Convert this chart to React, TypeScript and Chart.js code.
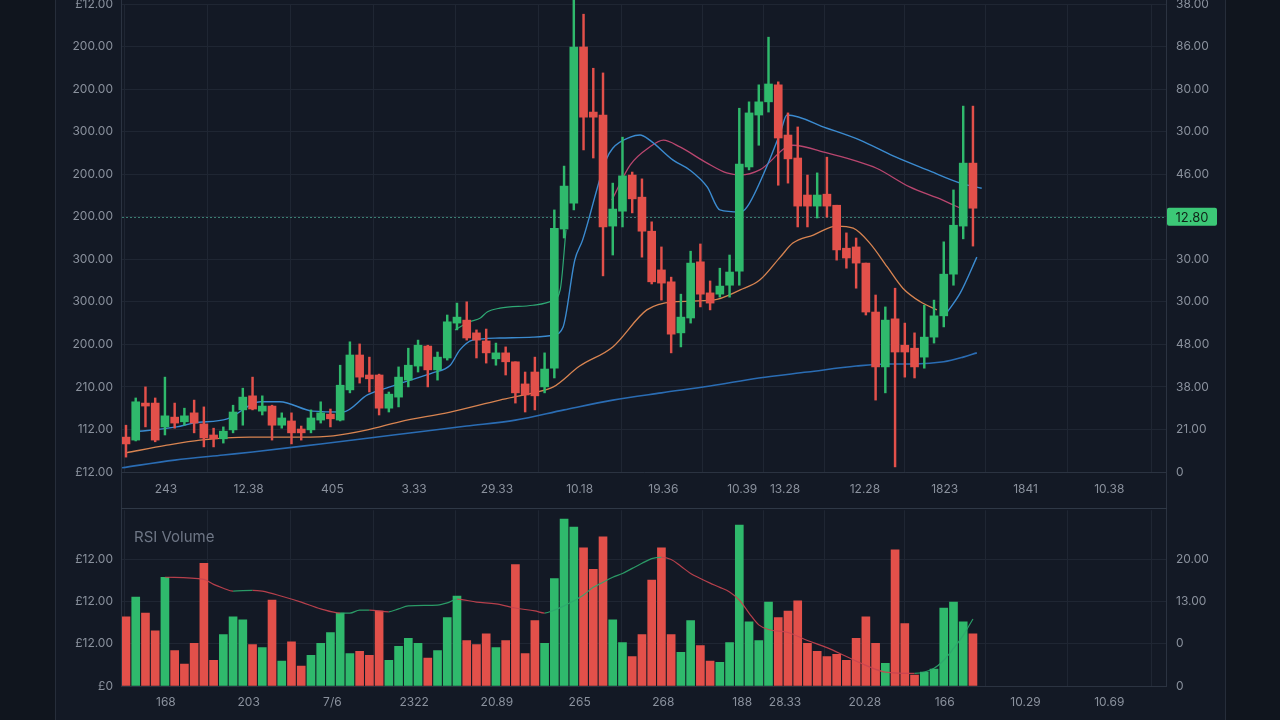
import React, { useEffect, useRef } from "react";
import { Chart, registerables } from "chart.js";

Chart.register(...registerables);

// ---------- DATA ----------
const opens = [8.2,7.5,16.2,16.2,10.6,12.9,11.8,13.9,11.3,8.7,7.8,9.9,14.6,17.9,14.3,15.5,11.0,12.0,10.1,9.9,12.2,13.6,12.2,19.3,27.5,22.8,22.8,15.0,17.6,21.6,24.9,29.6,24.0,26.8,35.0,35.7,32.7,30.8,26.6,28.0,25.9,20.7,23.5,20.0,24.4,57.1,63.2,99.9,84.6,83.9,57.8,61.3,69.8,64.6,56.6,47.5,44.7,32.7,36.2,49.4,42.1,41.8,43.9,47.2,71.7,83.9,87.0,91.0,79.2,73.8,65.1,62.5,65.3,62.7,52.6,52.9,49.1,37.6,24.7,36.0,29.8,29.1,27.0,31.7,36.7,46.5,57.8,72.6];
const closes = [6.6,16.5,15.5,7.5,13.2,11.5,13.2,11.5,8.0,7.8,9.6,14.1,17.6,14.8,15.5,11.0,12.7,9.2,9.2,12.7,13.9,12.5,20.4,27.5,22.3,21.9,15.0,18.3,22.3,25.1,29.8,24.0,27.0,35.3,36.4,31.5,31.0,28.0,28.0,25.9,18.6,18.1,17.9,24.2,57.3,67.2,99.9,83.4,83.4,57.6,61.8,69.6,64.2,56.6,44.7,44.4,32.4,36.4,49.1,41.8,39.7,43.7,47.0,72.4,84.4,87.0,91.2,78.5,73.6,62.5,62.5,65.1,62.5,52.2,50.3,49.1,37.6,24.7,35.7,28.2,28.2,24.7,31.7,36.7,46.5,58.0,72.6,62.0];
const highs = [11.0,17.4,20.0,17.4,22.3,16.2,15.0,16.9,15.3,10.3,10.6,15.7,19.7,22.3,17.9,15.7,13.9,13.9,10.8,14.6,16.5,14.8,25.1,30.6,30.1,27.0,23.0,18.8,24.7,29.1,31.0,29.8,28.2,36.9,39.7,40.0,33.4,33.6,30.3,29.4,25.9,23.5,27.0,28.0,61.6,71.9,113.0,107.6,94.9,93.8,67.9,78.7,70.5,68.9,58.8,52.9,45.8,41.8,51.9,53.6,44.9,47.9,51.0,85.5,87.0,91.0,102.2,91.7,84.4,81.1,69.8,70.3,74.0,62.7,56.2,55.0,49.1,41.6,38.8,43.2,35.0,32.7,39.2,40.4,54.1,66.3,86.0,86.0];
const lows = [3.5,7.3,10.6,7.1,8.7,10.3,11.0,9.2,5.9,5.9,6.8,9.2,11.0,14.6,13.4,7.5,10.3,6.6,7.5,9.2,11.5,10.6,12.0,18.6,20.9,18.8,13.4,14.1,15.3,20.0,23.5,20.0,21.6,26.3,33.4,31.0,26.8,25.6,25.1,22.8,16.2,14.1,14.6,18.6,22.1,55.0,61.6,75.7,73.8,46.1,51.0,57.6,60.9,50.5,44.2,40.4,28.0,29.4,35.0,38.8,38.1,41.1,41.1,43.9,71.0,76.8,84.6,67.4,67.9,57.6,57.6,59.7,59.9,49.8,47.9,43.2,36.9,16.9,18.6,1.2,22.3,22.1,24.4,30.3,34.1,43.9,54.8,53.1];

const volumes = [16.4,21.1,17.3,13.1,25.8,8.4,5.2,10.1,29.1,6.1,12.2,16.4,15.7,9.8,9.1,20.4,5.9,10.5,4.7,7.3,10.1,12.7,17.3,7.7,8.2,7.3,17.8,6.1,9.4,11.3,10.1,6.6,8.4,16.2,21.3,10.8,9.8,12.4,9.1,10.8,28.8,7.7,15.5,10.1,25.5,39.6,37.7,32.8,27.7,35.4,15.7,10.3,7.0,12.2,25.1,32.8,12.2,8.0,15.5,9.6,5.9,5.6,10.3,38.2,15.2,10.8,19.9,16.2,17.8,20.2,10.1,8.2,7.0,7.5,6.1,11.3,16.4,10.1,5.4,32.3,14.8,2.6,3.3,4.0,18.5,19.9,15.2,12.4];
const volumeUp = [0,1,0,0,1,0,0,0,0,0, 1,1,1,0,1,0,1,0,0,1, 1,1,1,1,0,0,0,1,1,1, 1,0,1,1,1,0,0,0,1,0, 0,0,0,1,1,1,1,0,0,0, 1,1,0,0,0,0,0,1,1,0, 0,1,1,1,1,1,1,0,0,0, 0,0,0,0,0,0,0,0,1,0, 0,0,1,1,1,1,1,0];

const maLongX = [-0.4,5,10,13,20,25,30,35,40,45,50,55,60,65,70,75,78,81,84,86,87.4];
const maLongY = [1.0,2.8,4.0,4.7,6.6,8.0,9.4,10.8,12.2,14.6,16.9,18.6,20.2,22.1,23.5,24.9,25.4,25.4,25.9,27.0,28.0];

const maMidX = [0,4.2,7.6,12.7,17.9,21.3,24.8,28.1,33.3,38.4,41.8,43.9,46.6,50.0,53.5,56.2,60.3,63.1,65.1,67.2,68.5,70.6,73.0,74.7,76.4,78.2,79.8,81.6,83.3];
const maMidY = [4.5,6.3,7.5,8.2,8.2,8.5,9.9,11.8,14.1,16.9,18.6,20.0,24.9,29.4,38.1,40.0,40.4,42.8,45.1,50.5,53.8,55.7,57.8,57.3,53.8,48.2,43.2,40.0,38.1];

const maShortX = [0.7,5.2,6.9,10.4,13.8,15.8,19.2,22.3,24.8,27.1,29.2,31.5,33.3,34.3,35.6,38.4,41.8,43.9,44.9,46.1,46.9,49.3,50.0,51.8,52.8,53.8,56.2,57.9,59.7,61.0,63.1,63.8,65.8,67.2,67.9,72.0,75.4,78.8,82.3,85.7,87.9];
const maShortY = [9.4,10.6,11.5,12.5,16.5,16.5,14.3,14.1,18.1,20.0,21.6,23.3,25.1,28.7,31.0,31.5,31.7,32.2,34.1,49.8,54.5,73.3,76.1,78.7,79.2,78.0,73.3,71.0,67.0,61.6,61.1,62.3,71.7,79.7,83.9,80.8,78.0,74.3,71.0,67.9,66.7];

const maTailX = [84.3,85.7,87.4];
const maTailY = [37.4,42.1,50.5];

const bandX = [33.8,35.3,36.4,37.1,38.4,41.8,43.9,44.6,45.2];
const bandY = [33.4,35.3,36.2,37.6,38.5,39.2,40.4,42.8,56.9];

const maPinkX = [49.9,51.8,53.8,55.2,56.9,59.7,61.7,63.1,65.1,68.5,72.0,74.7,77.1,80.5,83.9,85.7];
const maPinkY = [63.9,72.2,76.4,78.0,76.4,72.6,70.3,69.8,71.0,76.8,75.0,73.3,71.4,67.0,63.9,62.0];

const rsiX = [4,8,9,10,11,13,14,16,18,20,22,23,24,25,27,28,29,32,33,34,36,38,40,42,43,44,45,46,47,48,49,50,51,52,53,54,55,56,57,58,59,60,61,62,63,64,65,66,68,70,72,74,76,78,81,83,84,85,86,87];
const rsiY = [25.8,25.3,24.1,23.2,22.5,22.7,22.5,21.3,19.9,18.3,17.3,17.3,18.0,18.0,17.6,18.3,19.0,19.2,19.7,20.6,19.9,19.5,18.5,17.8,17.3,18.0,19.0,20.2,21.6,23.4,24.6,25.8,26.7,27.9,29.1,30.2,30.5,30.0,28.4,26.7,25.5,24.4,23.4,22.3,20.4,17.3,14.5,13.4,12.7,10.8,9.1,7.0,4.9,3.3,3.0,4.2,6.1,8.9,12.0,15.9];

const xTickPos = [4.1,12.6,21.2,29.6,38.1,46.6,55.2,63.3,67.7,75.9,84.1,92.4,101.0];
const mainXLabels = ["243","12.38","405","3.33","29.33","10.18","19.36","10.39","13.28","12.28","1823","1841","10.38"];
const volXLabels = ["168","203","7/6","2322","20.89","265","268","188","28.33","20.28","166","10.29","10.69"];

const priceTicks = [0,10,20,30,40,50,60,70,80,90,100,110];
const priceLeftLabels = ["£12.00","112.00","210.00","200.00","300.00","300.00","200.00","200.00","300.00","200.00","200.00","£12.00"];
const priceRightLabels = ["0","21.00","38.00","48.00","30.00","30.00","","46.00","30.00","80.00","86.00","38.00"];

const volTicks = [0,10,20,30];
const volLeftLabels = ["£0","£12.00","£12.00","£12.00"];
const volRightLabels = ["0","0","13.00","20.00"];

const lastPriceValue = 60;
const lastPriceLabel = "12.80";

// ---------- STYLE ----------
const GREEN = "#2fb96c";
const RED = "#e2504a";
const GRID = "#1f2633";
const TEXT = "#8a919d";
const FRAME = "#2b3341";
const X_MIN = -0.41;
const X_MAX = 106.83;
const FONT = "Inter, 'Noto Sans', sans-serif";

const pts = (xs: number[], ys: number[]) => xs.map((x, i) => ({ x, y: ys[i] }));

function lineDs(label: string, xs: number[], ys: number[], color: string, width: number) {
  return {
    type: "line" as const,
    label,
    data: pts(xs, ys),
    borderColor: color,
    borderWidth: width,
    pointRadius: 0,
    cubicInterpolationMode: "monotone" as const,
    order: 2,
    clip: false as any,
  };
}

export default function App() {
  const mainRef = useRef<HTMLCanvasElement>(null);
  const volRef = useRef<HTMLCanvasElement>(null);

  useEffect(() => {
    Chart.defaults.font.family = FONT;
    Chart.defaults.font.size = 12;
    Chart.defaults.color = TEXT;

    const idx = opens.map((_, i) => i);
    const candleColors = idx.map((i) => (closes[i] >= opens[i] ? GREEN : RED));

    const priceLinePlugin = {
      id: "priceLine",
      beforeDatasetsDraw(chart: any) {
        const { ctx, chartArea } = chart;
        const y = Math.round(chart.scales.y.getPixelForValue(lastPriceValue)) + 0.5;
        ctx.save();
        ctx.setLineDash([2, 2]);
        ctx.strokeStyle = "rgba(72,160,140,0.75)";
        ctx.lineWidth = 1;
        ctx.beginPath();
        ctx.moveTo(chartArea.left, y);
        ctx.lineTo(chartArea.right, y);
        ctx.stroke();
        ctx.restore();
      },
      afterDraw(chart: any) {
        const { ctx, chartArea } = chart;
        const y = chart.scales.y.getPixelForValue(lastPriceValue);
        const x = chartArea.right + 1;
        ctx.save();
        ctx.fillStyle = "#3cc877";
        ctx.beginPath();
        (ctx as any).roundRect ? (ctx as any).roundRect(x, y - 9, 50, 18, 2) : ctx.rect(x, y - 9, 50, 18);
        ctx.fill();
        ctx.fillStyle = "#0f2217";
        ctx.font = `13px ${FONT}`;
        ctx.textAlign = "center";
        ctx.textBaseline = "middle";
        ctx.fillText(lastPriceLabel, x + 25, y + 1);
        ctx.restore();
      },
    };

    const main = new Chart(mainRef.current!, {
      type: "bar",
      data: {
        datasets: [
          {
            type: "bar",
            label: "body",
            data: idx.map((i) => ({ x: i, y: [opens[i], closes[i]] })) as any,
            backgroundColor: candleColors,
            barThickness: 8,
            grouped: false,
            order: 0,
            clip: false as any,
            minBarLength: 2,
          } as any,
          {
            type: "bar",
            label: "wick",
            data: idx.map((i) => ({ x: i, y: [lows[i], highs[i]] })) as any,
            backgroundColor: candleColors,
            barThickness: 1.8,
            grouped: false,
            order: 1,
            clip: false as any,
          } as any,
          lineDs("MA long", maLongX, maLongY, "#2a6cb3", 1.6),
          lineDs("MA mid", maMidX, maMidY, "#d88451", 1.3),
          lineDs("MA short", maShortX, maShortY, "#3b8bd0", 1.4),
          lineDs("MA short tail", maTailX, maTailY, "#3b8bd0", 1.4),
          lineDs("Band", bandX, bandY, "#2ea874", 1.2),
          lineDs("MA pink", maPinkX, maPinkY, "#b9466f", 1.3),
        ],
      },
      options: {
        animation: false,
        responsive: false,
        devicePixelRatio: 1,
        layout: { padding: { top: 24, bottom: 0, left: 0, right: 0 } },
        plugins: { legend: { display: false }, tooltip: { enabled: false } },
        scales: {
          x: {
            type: "linear",
            min: X_MIN,
            max: X_MAX,
            offset: false,
            afterBuildTicks: (s: any) => { s.ticks = xTickPos.map((v) => ({ value: v })); },
            afterFit: (s: any) => { s.height = 48; },
            ticks: {
              autoSkip: false,
              maxRotation: 0,
              padding: 10,
              color: TEXT,
              callback: (_v: any, i: number) => mainXLabels[i],
            },
            grid: { color: GRID, drawTicks: false },
            border: { display: true, color: FRAME },
          },
          y: {
            position: "left",
            min: 0,
            max: 110,
            afterBuildTicks: (s: any) => { s.ticks = priceTicks.map((v) => ({ value: v })); },
            afterFit: (s: any) => { s.width = 122; },
            ticks: { autoSkip: false, padding: 9, color: TEXT, callback: (_v: any, i: number) => priceLeftLabels[i] },
            grid: { color: GRID, drawTicks: false },
            border: { display: false },
          },
          y2: {
            position: "right",
            min: 0,
            max: 110,
            afterBuildTicks: (s: any) => { s.ticks = priceTicks.map((v) => ({ value: v })); },
            afterFit: (s: any) => { s.width = 114; },
            ticks: { autoSkip: false, padding: 10, color: TEXT, callback: (_v: any, i: number) => priceRightLabels[i] },
            grid: { display: false, drawTicks: false },
            border: { display: false },
          },
        },
      } as any,
      plugins: [priceLinePlugin],
    });

    const vol = new Chart(volRef.current!, {
      type: "bar",
      data: {
        datasets: [
          {
            type: "bar",
            label: "Volume",
            data: idx.map((i) => ({ x: i, y: volumes[i] })) as any,
            backgroundColor: idx.map((i) => (volumeUp[i] ? GREEN : RED)),
            barThickness: 8,
            grouped: false,
            order: 1,
          } as any,
          {
            type: "line",
            label: "RSI",
            data: pts(rsiX, rsiY),
            borderWidth: 1.2,
            pointRadius: 0,
            cubicInterpolationMode: "monotone",
            order: 0,
            segment: {
              borderColor: (ctx: any) =>
                ctx.p1.parsed.y >= ctx.p0.parsed.y ? "rgba(46,168,110,0.9)" : "rgba(200,68,80,0.9)",
            },
          } as any,
        ],
      },
      options: {
        animation: false,
        responsive: false,
        devicePixelRatio: 1,
        layout: { padding: { top: 1, bottom: 0, left: 0, right: 0 } },
        plugins: { legend: { display: false }, tooltip: { enabled: false } },
        scales: {
          x: {
            type: "linear",
            min: X_MIN,
            max: X_MAX,
            offset: false,
            afterBuildTicks: (s: any) => { s.ticks = xTickPos.map((v) => ({ value: v })); },
            afterFit: (s: any) => { s.height = 34; },
            ticks: {
              autoSkip: false,
              maxRotation: 0,
              padding: 9,
              color: TEXT,
              callback: (_v: any, i: number) => volXLabels[i],
            },
            grid: { color: GRID, drawTicks: false },
            border: { display: true, color: FRAME },
          },
          y: {
            position: "left",
            min: 0,
            max: 41.7,
            afterBuildTicks: (s: any) => { s.ticks = volTicks.map((v) => ({ value: v })); },
            afterFit: (s: any) => { s.width = 122; },
            ticks: { autoSkip: false, padding: 9, color: TEXT, callback: (_v: any, i: number) => volLeftLabels[i] },
            grid: { color: GRID, drawTicks: false },
            border: { display: false },
          },
          y2: {
            position: "right",
            min: 0,
            max: 41.7,
            afterBuildTicks: (s: any) => { s.ticks = volTicks.map((v) => ({ value: v })); },
            afterFit: (s: any) => { s.width = 114; },
            ticks: { autoSkip: false, padding: 10, color: TEXT, callback: (_v: any, i: number) => volRightLabels[i] },
            grid: { display: false, drawTicks: false },
            border: { display: false },
          },
        },
      } as any,
    });

    return () => {
      main.destroy();
      vol.destroy();
    };
  }, []);

  const line = (style: React.CSSProperties) => (
    <div style={{ position: "absolute", background: FRAME, ...style }} />
  );

  return (
    <div
      style={{
        position: "fixed",
        left: 0,
        top: 0,
        width: 1280,
        height: 720,
        overflow: "hidden",
        background: "#10151e",
        fontFamily: FONT,
      }}
    >
      <div
        style={{
          position: "absolute",
          left: 55,
          top: 0,
          width: 1171,
          height: 720,
          boxSizing: "border-box",
          background: "#131925",
          borderLeft: "1px solid #262d3a",
          borderRight: "1px solid #262d3a",
        }}
      />
      <canvas
        ref={mainRef}
        width={1280}
        height={540}
        style={{ position: "absolute", left: 0, top: -20, width: 1280, height: 540 }}
      />
      <canvas
        ref={volRef}
        width={1280}
        height={227}
        style={{ position: "absolute", left: 0, top: 493, width: 1280, height: 227 }}
      />
      {line({ left: 121, top: 0, width: 1, height: 687 })}
      {line({ left: 1166, top: 0, width: 1, height: 687 })}
      {line({ left: 121, top: 508, width: 1046, height: 1, background: "#2f3846" })}
      <div
        style={{
          position: "absolute",
          left: 134,
          top: 528,
          color: "#6e7685",
          fontSize: 15,
          lineHeight: "18px",
        }}
      >
        RSI Volume
      </div>
    </div>
  );
}
